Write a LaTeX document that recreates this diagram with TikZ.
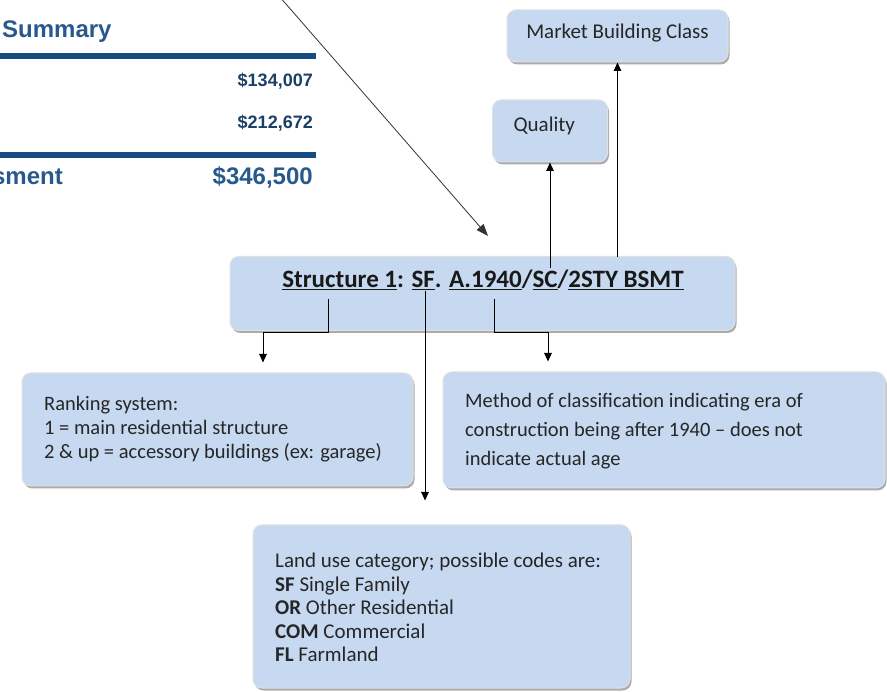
\documentclass[tikz,border=0pt]{standalone}
\usepackage{fontspec}
\setmainfont{Carlito}
\newfontfamily\arialfont{Liberation Sans}
\usetikzlibrary{arrows.meta,shadows,calc}
\definecolor{boxfill}{HTML}{C6D9F1}
\definecolor{navy}{HTML}{164C80}
\definecolor{navytext}{HTML}{28598C}
\definecolor{navydark}{HTML}{1C3F68}
\begin{document}
\begin{tikzpicture}[x=1pt,y=-1pt,
  box/.style={draw=white!88!black, line width=1pt, fill=boxfill, rounded corners=9pt,
    drop shadow={shadow xshift=1.5pt, shadow yshift=-2.5pt, fill=black!55, opacity=0.6},
    inner sep=0pt},
  arr/.style={-{Triangle[width=7.5pt,length=8.5pt]}, line width=0.9pt, black},
  txt/.style={anchor=north west, align=left, inner sep=0pt, text=black!85},
  sumbig/.style={inner sep=0pt, font=\arialfont\bfseries\fontsize{24}{26}\selectfont, text=navytext},
  sumsmall/.style={inner sep=0pt, anchor=east, font=\arialfont\bfseries\fontsize{18}{20}\selectfont, text=navydark},
  rule/.style={navy, line width=6pt}]
\useasboundingbox (0,0) rectangle (887,692);

% summary fragment
\node[sumbig, anchor=west] (summ) at (2,32) {Summary};
\draw[rule] (0,56) -- (316,56);
\node[sumsmall] (v1) at (313,81) {\$134,007};
\node[sumsmall] (v2) at (313,123) {\$212,672};
\draw[rule] (0,155) -- (316,155);
\node[sumbig, anchor=east] (sment) at (63,177) {sment};
\node[sumbig, anchor=east] (v3) at (313,177) {\$346,500};

% boxes
\node[box, minimum width=221pt, minimum height=52pt] (market) at (617.5,36) {};
\node[font=\fontsize{21}{24}\selectfont, text=black!85] (markettext) at (617.5,33) {Market Building Class};
\node[box, minimum width=115pt, minimum height=62pt] (quality) at (550,131) {};
\node[font=\fontsize{21}{24}\selectfont, text=black!85, anchor=west] (qualitytext) at (510,126) {Quality};

\node[box, minimum width=505pt, minimum height=74pt] (main) at (482.5,293.5) {};
\node[inner sep=0pt, font=\bfseries\fontsize{25}{28}\selectfont, text=black!90] (maintext) at (483,280)
  {\underline{Structure 1}: \underline{SF}. \underline{A.1940}/\underline{SC}/\underline{2STY BSMT}};

\node[box, minimum width=391pt, minimum height=113pt] (rank) at (217.5,429.5) {};
\node[txt, font=\fontsize{20.5}{24}\selectfont] (ranktext) at (44,396.5)
  {Ranking system:\\1 = main residential structure\\2 \& up = accessory buildings (ex: garage)};

\node[box, minimum width=442pt, minimum height=116pt] (method) at (664,430) {};
\node[txt, font=\fontsize{20.5}{29}\selectfont] (methodtext) at (465,393.5)
  {Method of classification indicating era of\\construction being after 1940 -- does not\\indicate actual age};

\node[box, minimum width=377pt, minimum height=163pt] (land) at (441.5,606.5) {};
\node[txt, font=\fontsize{21}{23.5}\selectfont] (landtext) at (275,553)
  {Land use category; possible codes are:\\\textbf{SF} Single Family\\\textbf{OR} Other Residential\\\textbf{COM} Commercial\\\textbf{FL} Farmland};

% connectors
\coordinate (src) at (279,-4);
\coordinate (tip) at (488,236);
\draw[-{Triangle[width=9pt,length=12pt]}, line width=0.8pt, black!80] (src) -- (tip);

\coordinate (sQ) at (550,268);
\coordinate (sM) at (617.5,257);
\draw[arr] (sQ) -- (quality.south);
\draw[arr] (sM) -- (market.south);

\coordinate (sA) at (328,299);
\coordinate (kA) at (263,332);
\draw[arr, shorten >=10pt] (sA) |- (kA) -- (kA |- rank.north);

\coordinate (sC) at (494,299);
\coordinate (kC) at (548,332);
\draw[arr, shorten >=10pt] (sC) |- (kC) -- (kC |- method.north);

\coordinate (sB) at (425,291);
\draw[arr, shorten >=24pt] (sB) -- (sB |- land.north);
\end{tikzpicture}
\end{document}
